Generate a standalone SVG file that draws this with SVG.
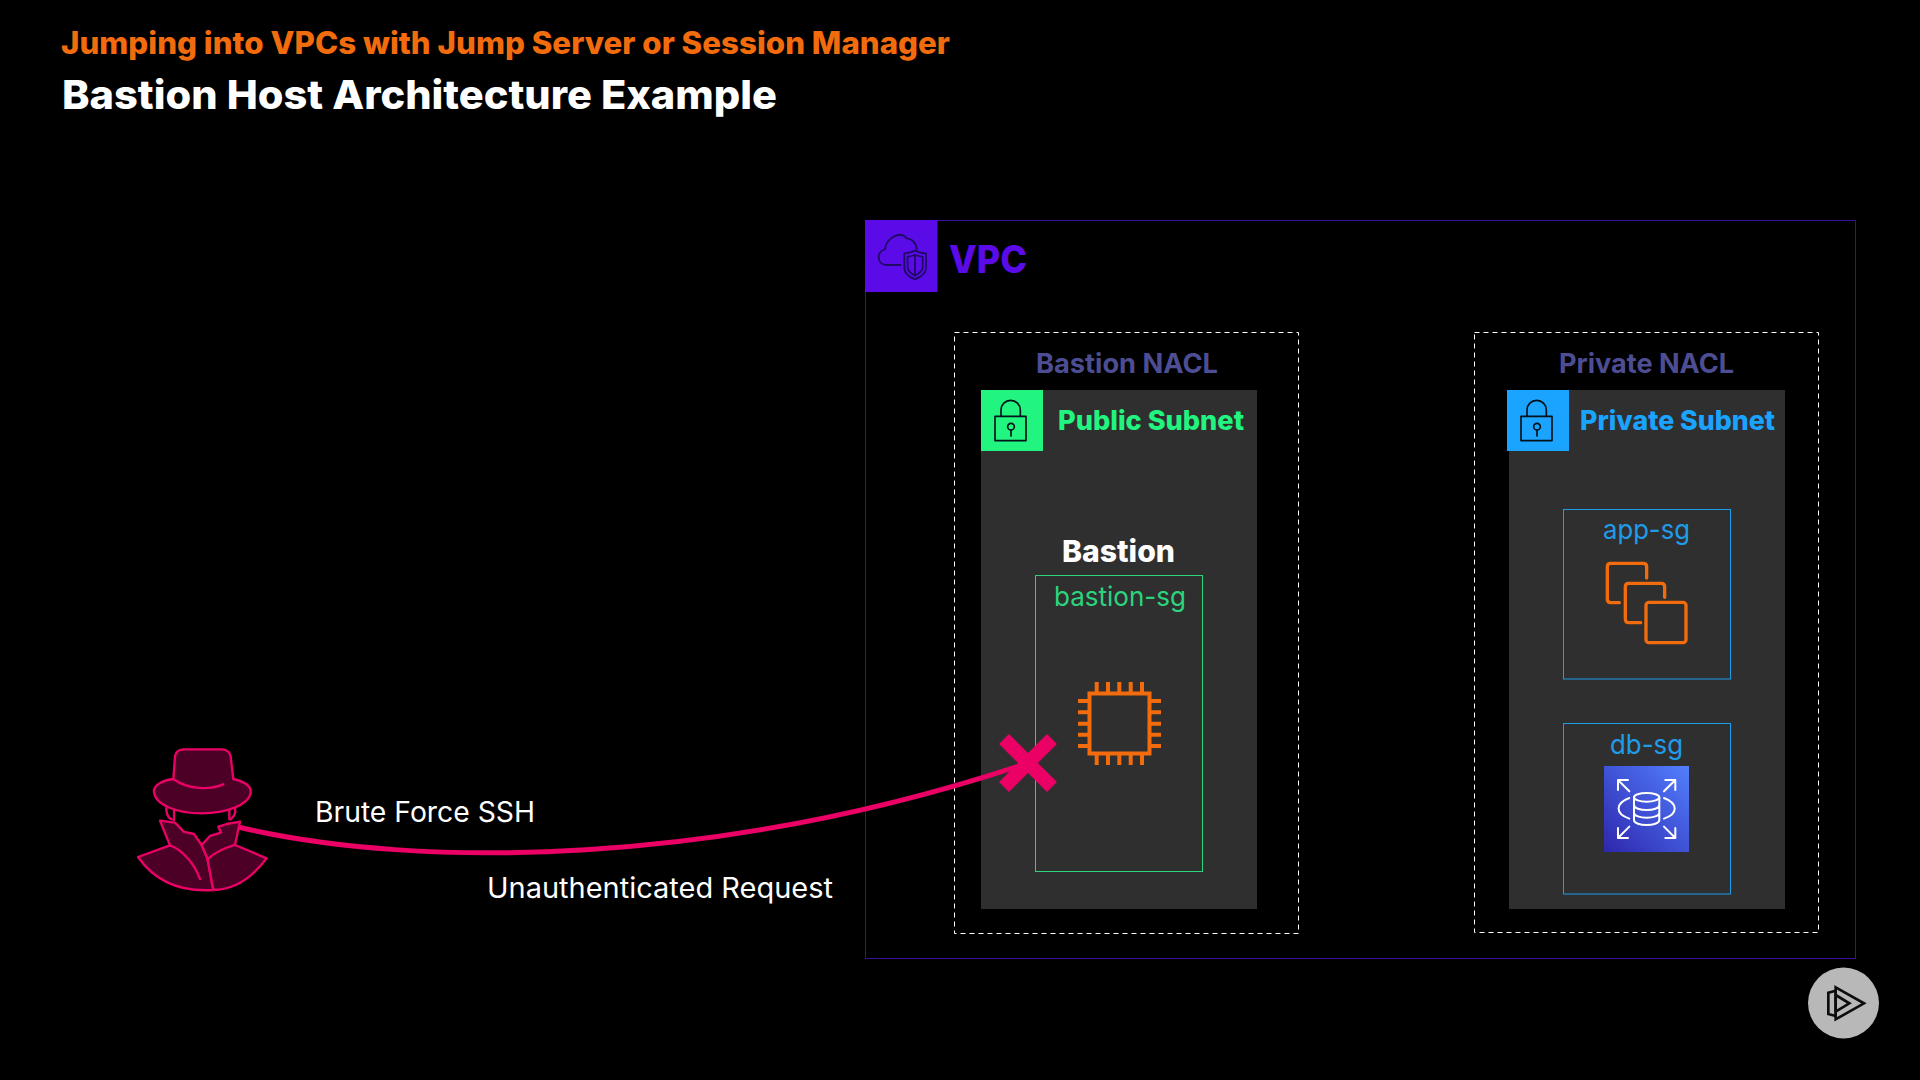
<svg xmlns="http://www.w3.org/2000/svg" width="1920" height="1080" viewBox="0 0 1920 1080">
<style>
text{font-family:Inter,"Liberation Sans",sans-serif}
.b{font-weight:800}.s{font-weight:700}.r{font-weight:400}
.nacl{fill:none;stroke:#fff;stroke-width:1;stroke-dasharray:5 4}
.sub{fill:#2f2f2f}
.sg{fill:none;stroke-width:1}
.nt{fill:#4d4d94;font-size:27px}
.ln{fill:none;stroke-linecap:round;stroke-linejoin:round}
</style>
<defs>
<linearGradient id="rds" x1="0" y1="1" x2="1" y2="0"><stop offset="0" stop-color="#2e27ad"/><stop offset="1" stop-color="#527fff"/></linearGradient>
<g id="lock" class="ln" stroke="#06121a" stroke-width="5"><rect x="42" y="79" width="93" height="73"/><path d="M60 79V60a29 29 0 0 1 58 0V79"/><circle cx="90" cy="110" r="10"/><path d="M90 120v18"/></g>
</defs>
<rect width="1920" height="1080" fill="#000"/>
<text id="subtitle" class="b" x="61" y="53.5" font-size="31" fill="#f26c0d" textLength="889" lengthAdjust="spacingAndGlyphs">Jumping into VPCs with Jump Server or Session Manager</text>
<text id="title" class="b" x="62" y="109" font-size="40" fill="#fff" textLength="715" lengthAdjust="spacingAndGlyphs">Bastion Host Architecture Example</text>

<g id="vpc">
<rect x="865.5" y="220.5" width="990" height="738" fill="none" stroke="#3d0d9c" stroke-width="1"/>
<rect x="865" y="220" width="72.5" height="72" fill="#5a0be8"/>
<g transform="translate(860 210) scale(.3333)" class="ln" stroke="#1f0a66" stroke-width="5.5">
<path d="M122 165H80C50 165 48 125 75 118C78 85 120 60 140 85C155 85 170 100 170 118"/>
<path d="M165 122C150 128 142 130 133 130V175C133 190 150 202 165 208C180 202 198 190 198 175V130C188 130 178 128 165 122Z"/>
<path d="M165 135C156 138 150 140 143 140V172C143 184 155 192 165 197C175 192 188 184 188 172V140C180 140 174 138 165 135Z"/>
<path d="M165 135V197"/></g>
<text class="b" x="949" y="273" font-size="38" fill="#5a0be8" textLength="78" lengthAdjust="spacingAndGlyphs">VPC</text>
</g>

<g id="bastion-nacl">
<rect class="nacl" x="954.5" y="332.5" width="344" height="601"/>
<text class="s nt" x="1036" y="372.5" textLength="182" lengthAdjust="spacingAndGlyphs">Bastion NACL</text>
</g>
<g id="public-subnet">
<rect class="sub" x="981" y="390" width="276" height="519"/>
<rect x="981" y="390" width="62" height="61" fill="#21f47f"/>
<use href="#lock" transform="translate(981 390) scale(.3333)"/>
<text class="b" x="1058" y="430" font-size="27" fill="#21f47f" textLength="186" lengthAdjust="spacingAndGlyphs">Public Subnet</text>
</g>
<g id="bastion">
<text class="b" x="1062" y="561.5" font-size="30" fill="#fff" textLength="113" lengthAdjust="spacingAndGlyphs">Bastion</text>
<rect class="sg" x="1035.5" y="575.5" width="167" height="296" stroke="#2bd47d"/>
<text class="r" x="1054" y="606" font-size="27" fill="#2bd47d" textLength="132" lengthAdjust="spacingAndGlyphs">bastion-sg</text>
<g class="ln" stroke="#f26c0d" stroke-width="4">
<rect x="1089.5" y="693.5" width="60" height="60" stroke-linejoin="miter"/>
<path stroke-linecap="butt" d="M1096.7 682v11M1108 682v11M1119.3 682v11M1130.7 682v11M1142 682v11M1096.7 754v11M1108 754v11M1119.3 754v11M1130.7 754v11M1142 754v11M1078 701h11M1078 712.3h11M1078 723.7h11M1078 734.7h11M1078 746h11M1150 701h11M1150 712.3h11M1150 723.7h11M1150 734.7h11M1150 746h11"/>
</g>
</g>

<g id="private-nacl">
<rect class="nacl" x="1474.5" y="332.5" width="344" height="600"/>
<text class="s nt" x="1559" y="372.5" textLength="175" lengthAdjust="spacingAndGlyphs">Private NACL</text>
</g>
<g id="private-subnet">
<rect class="sub" x="1509" y="390" width="276" height="519"/>
<rect x="1507" y="390" width="62" height="61" fill="#1aa3ff"/>
<use href="#lock" transform="translate(1507 390) scale(.3333)"/>
<text class="b" x="1580" y="430" font-size="27" fill="#1aa3ff" textLength="195" lengthAdjust="spacingAndGlyphs">Private Subnet</text>
</g>
<g id="app-sg">
<rect class="sg" x="1563.5" y="509.5" width="167" height="169.5" stroke="#1f9ce8"/>
<text class="r" x="1603" y="539" font-size="27" fill="#1f9ce8" textLength="87" lengthAdjust="spacingAndGlyphs">app-sg</text>
<g transform="translate(1540 540) scale(.3333)" class="ln" stroke="#f26c0d" stroke-width="10">
<path d="M238 188H212Q202 188 202 178V80Q202 70 212 70H310Q320 70 320 80V114"/>
<path d="M302 248H266Q256 248 256 238V140Q256 130 266 130H364Q374 130 374 140V172"/>
<rect x="318" y="187" width="120" height="121" rx="9"/>
</g>
</g>
<g id="db-sg">
<rect class="sg" x="1563.5" y="723.5" width="167" height="170.5" stroke="#1f9ce8"/>
<text class="r" x="1610" y="754" font-size="27" fill="#1f9ce8" textLength="73" lengthAdjust="spacingAndGlyphs">db-sg</text>
<rect x="1604" y="766" width="85" height="86" fill="url(#rds)"/>
<g transform="translate(1540 710) scale(.3333)" class="ln" stroke="#fff" stroke-width="6">
<path d="M268 244L234 210M234 240V210H264M372 244L406 210M376 210H406V240M268 350L234 384M234 354V384H264M372 350L406 384M376 384H406V354"/>
<ellipse cx="320" cy="262" rx="38" ry="13"/>
<path d="M282 262V330C282 350 358 350 358 330V262M282 285C282 305 358 305 358 285M282 308C282 328 358 328 358 308"/>
<path d="M268 264C225 280 225 312 268 326M372 264C415 280 415 312 372 326"/>
</g>
</g>

<g id="attacker">
<g transform="translate(120 730) scale(.3333)" stroke="#eb0066" stroke-width="7" stroke-linejoin="round" stroke-linecap="round" fill="#4d0026">
<path d="M54 381L150 346L120 272L165 278L185 298L190 305L222 312L245 345L262 385L280 480Q130 490 54 381Z"/>
<path d="M262 388Q295 360 345 345L360 275L320 282L295 290L303 308L270 318L245 345L262 385L280 480Q370 478 440 385L345 345"/>
<path fill="none" d="M150 346C190 360 225 405 240 447"/>
<path fill="none" d="M140 230C135 245 145 265 155 268M345 235C348 250 340 262 332 268M162 240V270M328 240V268"/>
<path d="M160 147L165 80Q167 60 190 58H305Q330 60 332 80L340 147C375 155 395 170 392 190C385 225 320 250 245 250C170 250 105 225 102 185C100 165 130 150 160 147Z"/>
<path fill="none" d="M160 147C205 180 270 180 310 163"/>
</g>
</g>

<g id="connectors">
<path d="M238 827C420 870 720 866 1028 763" fill="none" stroke="#eb0066" stroke-width="5"/>
<path d="M1004 739L1052 787M1052 739L1004 787" fill="none" stroke="#eb0066" stroke-width="14"/>
<text class="r" x="315" y="822" font-size="28" fill="#fff" textLength="220" lengthAdjust="spacingAndGlyphs">Brute Force SSH</text>
<text class="r" x="487" y="898" font-size="28" fill="#fff" textLength="346" lengthAdjust="spacingAndGlyphs">Unauthenticated Request</text>
</g>

<g id="logo">
<circle cx="1843.5" cy="1003" r="35.5" fill="#b8b8b8"/>
<g transform="translate(1790 950) scale(.3333)" fill="none" stroke="#0d0d0d" stroke-width="8">
<path d="M137 112L222 160L137 208Z"/>
<path d="M137 135L178 160L137 185Z"/>
<path d="M137 122L115 128V192L137 198"/>
</g>
</g>
</svg>
